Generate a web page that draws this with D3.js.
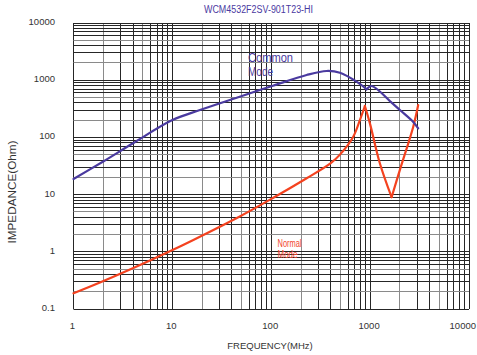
<!DOCTYPE html>
<html>
<head>
<meta charset="utf-8">
<script src="https://cdn.jsdelivr.net/npm/d3@7"></script>
<style>
  body { margin: 0; background: #fff; }
  svg { display: block; font-family: "Liberation Sans", Arial, sans-serif; }
</style>
</head>
<body>
<svg id="chart" width="477" height="355"></svg>
<script>
// Impedance vs. frequency for a common-mode choke (log-log)
const chartTitle = "WCM4532F2SV-901T23-HI";
const xAxisTitle = "FREQUENCY(MHz)";
const yAxisTitle = "IMPEDANCE(Ohm)";
const xTickLabels = ["1", "10", "100", "1000", "10000"];
const yTickLabels = ["0.1", "1", "10", "100", "1000", "10000"];

// Common mode impedance (Ohm) at frequency (MHz)
const commonFreq = [1, 2, 4, 10, 19, 48, 104, 228, 363, 495, 730, 922, 1036, 1585, 2000, 2730, 3063];
const commonZ    = [18.7, 38, 79, 201, 301, 515, 800, 1233, 1449, 1352, 942, 693, 792, 432, 301, 186, 144];
// indices where the common mode trace has a sharp corner
const commonCorners = [11];

// Normal mode impedance (Ohm) at frequency (MHz)
const normalFreq = [1, 1.85, 4.03, 8.75, 16.3, 48, 104, 228, 400, 495, 675, 788, 885, 995, 1256, 1649, 2000, 2730, 3063];
const normalZ    = [0.188, 0.29, 0.52, 0.96, 1.61, 4.14, 8.72, 19.3, 35.6, 50, 103, 201, 354, 176, 35, 9, 27, 154, 368];
// indices where the normal mode trace has a sharp corner
const normalCorners = [12, 15];

const commonLabel = ["Common", "Mode"];
const normalLabel = ["Normal", "Mode"];

const purple = "#4a3a9f";
const red = "#f4421f";

const svg = d3.select("#chart");
svg.append("rect").attr("width", 477).attr("height", 355).attr("fill", "#fff");

const x = d3.scaleLog().domain([1, 10000]).range([73.5, 469]);
const y = d3.scaleLog().domain([0.1, 10000]).range([309, 23]);

// Grid: every 1..9 multiple of each decade
function gridValues(domain) {
  const vals = [];
  const lo = Math.round(Math.log10(domain[0]));
  const hi = Math.round(Math.log10(domain[1]));
  for (let k = lo; k <= hi; k++) {
    for (let m = 1; m <= 9; m++) {
      const v = m * Math.pow(10, k);
      if (v >= domain[0] * 0.999 && v <= domain[1] * 1.001) vals.push({ v, m });
    }
  }
  return vals;
}
const crisp = p => Math.round(p - 0.5) + 0.5;
const gridColor = m => (m === 2 || m === 5) ? "#8a8a8a" : "#262626";

const grid = svg.append("g");
gridValues(x.domain()).forEach(d => {
  grid.append("line")
    .attr("x1", crisp(x(d.v))).attr("x2", crisp(x(d.v)))
    .attr("y1", y.range()[1]).attr("y2", y.range()[0])
    .attr("stroke", gridColor(d.m)).attr("stroke-width", 1);
});
gridValues(y.domain()).forEach(d => {
  grid.append("line")
    .attr("y1", crisp(y(d.v))).attr("y2", crisp(y(d.v)))
    .attr("x1", x.range()[0]).attr("x2", x.range()[1])
    .attr("stroke", gridColor(d.m)).attr("stroke-width", 1);
});

// Tick labels
svg.append("g").selectAll("text").data(yTickLabels).join("text")
  .attr("x", 55).attr("y", d => y(+d)).attr("dy", "0.2em")
  .attr("text-anchor", "end").attr("font-size", 9.5).attr("fill", "#333")
  .text(d => d);

svg.append("g").selectAll("text").data(xTickLabels).join("text")
  .attr("x", d => x(+d) - 1).attr("y", 329)
  .attr("text-anchor", "middle").attr("font-size", 9.5).attr("fill", "#333")
  .text(d => d)
  .each(function () {
    // keep the last label inside the canvas
    const b = this.getBBox();
    const over = b.x + b.width - 476;
    if (over > 0) d3.select(this).attr("x", +d3.select(this).attr("x") - over);
  });

// Axis titles and chart title
svg.append("text").attr("x", 270).attr("y", 349)
  .attr("text-anchor", "middle").attr("font-size", 9.5).attr("fill", "#333")
  .text(xAxisTitle);

svg.append("text")
  .attr("transform", "translate(15.5,192) rotate(-90)")
  .attr("text-anchor", "middle").attr("font-size", 10).attr("fill", "#333")
  .attr("textLength", 103).attr("lengthAdjust", "spacingAndGlyphs")
  .text(yAxisTitle);

svg.append("text").attr("x", 258.5).attr("y", 13)
  .attr("text-anchor", "middle").attr("font-size", 10).attr("fill", purple)
  .attr("textLength", 109).attr("lengthAdjust", "spacingAndGlyphs")
  .text(chartTitle);

// Curves: smooth between sharp corners, split into pieces at the corners
const line = d3.line().x(d => x(d[0])).y(d => y(d[1])).curve(d3.curveCatmullRom.alpha(0.5));
function drawTrace(freq, z, corners, color) {
  const pts = d3.zip(freq, z);
  const cuts = [0, ...corners, pts.length - 1];
  for (let i = 0; i < cuts.length - 1; i++) {
    svg.append("path")
      .attr("d", line(pts.slice(cuts[i], cuts[i + 1] + 1)))
      .attr("fill", "none").attr("stroke", color).attr("stroke-width", 2.2)
      .attr("stroke-linejoin", "round").attr("stroke-linecap", "round");
  }
}
drawTrace(normalFreq, normalZ, normalCorners, red);
drawTrace(commonFreq, commonZ, commonCorners, purple);

// Series labels
const cl = svg.append("text").attr("font-size", 12.5).attr("fill", purple);
cl.append("tspan").attr("x", 248).attr("y", 61.5)
  .attr("textLength", 45).attr("lengthAdjust", "spacingAndGlyphs").text(commonLabel[0]);
cl.append("tspan").attr("x", 248).attr("y", 76)
  .attr("textLength", 25).attr("lengthAdjust", "spacingAndGlyphs").text(commonLabel[1]);

const nl = svg.append("text").attr("font-size", 10.5).attr("fill", "#f2462e");
nl.append("tspan").attr("x", 277.5).attr("y", 246.5)
  .attr("textLength", 24).attr("lengthAdjust", "spacingAndGlyphs").text(normalLabel[0]);
nl.append("tspan").attr("x", 277.5).attr("y", 258)
  .attr("textLength", 20).attr("lengthAdjust", "spacingAndGlyphs").text(normalLabel[1]);
</script>
</body>
</html>
